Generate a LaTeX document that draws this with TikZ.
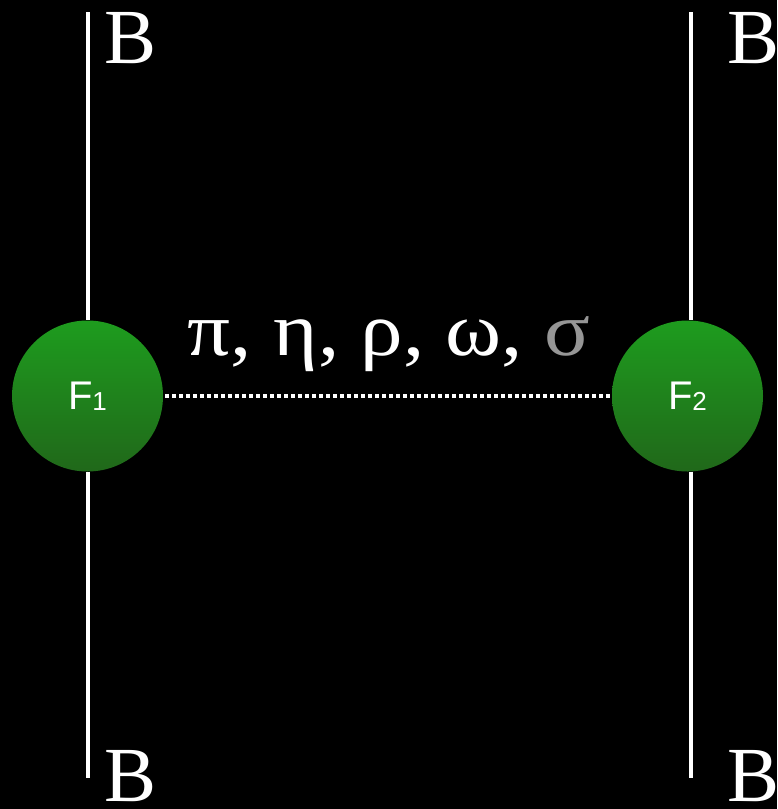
\documentclass[tikz,border=0pt]{standalone}
\usepackage{fontspec}
\setmainfont{Liberation Serif}
\setsansfont{Liberation Sans}
\definecolor{gtop}{RGB}{30,156,30}
\definecolor{gbot}{RGB}{32,104,26}
\definecolor{sgrey}{RGB}{150,150,150}
\begin{document}
\begin{tikzpicture}[x=1pt,y=-1pt,
  fnode/.style={circle, minimum size=151pt, inner sep=0pt, top color=gtop, bottom color=gbot, draw=none, text=white, font=\sffamily\fontsize{40}{40}\selectfont},
  bline/.style={white, line width=4pt},
  dotline/.style={white, line width=4pt, dash pattern=on 4pt off 3pt, shorten <=2pt, shorten >=2pt},
  blabel/.style={white, font=\fontsize{78}{78}\selectfont, anchor=base west, inner sep=0pt},
  glabel/.style={white, font=\fontsize{76}{76}\selectfont, anchor=base, inner sep=0pt}]
\fill[black] (0,0) rectangle (777,809);
\useasboundingbox (0,0) rectangle (777,809);
\node[fnode] (F1) at (87.5,396) {F\raisebox{-1.5pt}{\fontsize{26}{26}\selectfont 1}};
\node[fnode] (F2) at (687.5,396) {F\raisebox{-1.5pt}{\fontsize{26}{26}\selectfont 2}};
\coordinate (t1) at (87.5,12);
\coordinate (b1) at (87.5,778);
\coordinate (t2) at (691,12);
\coordinate (b2) at (691,778);
\draw[bline] (t1) -- (F1.north);
\draw[bline] (F1.south) -- (b1);
\draw[bline] (t2) -- (t2 |- F2.north);
\draw[bline] (b2 |- F2.south) -- (b2);
\draw[dotline] (F1) -- (F2);
\node[glabel] (lab) at (389,355) {\scalebox{1.12}[1]{π, η, ρ, ω, \textcolor{sgrey}{σ}}};
\node[blabel] (B1) at (104,63) {B};
\node[blabel] (B2) at (727,63) {B};
\node[blabel] (B3) at (104,801) {B};
\node[blabel] (B4) at (727,801) {B};
\end{tikzpicture}
\end{document}
